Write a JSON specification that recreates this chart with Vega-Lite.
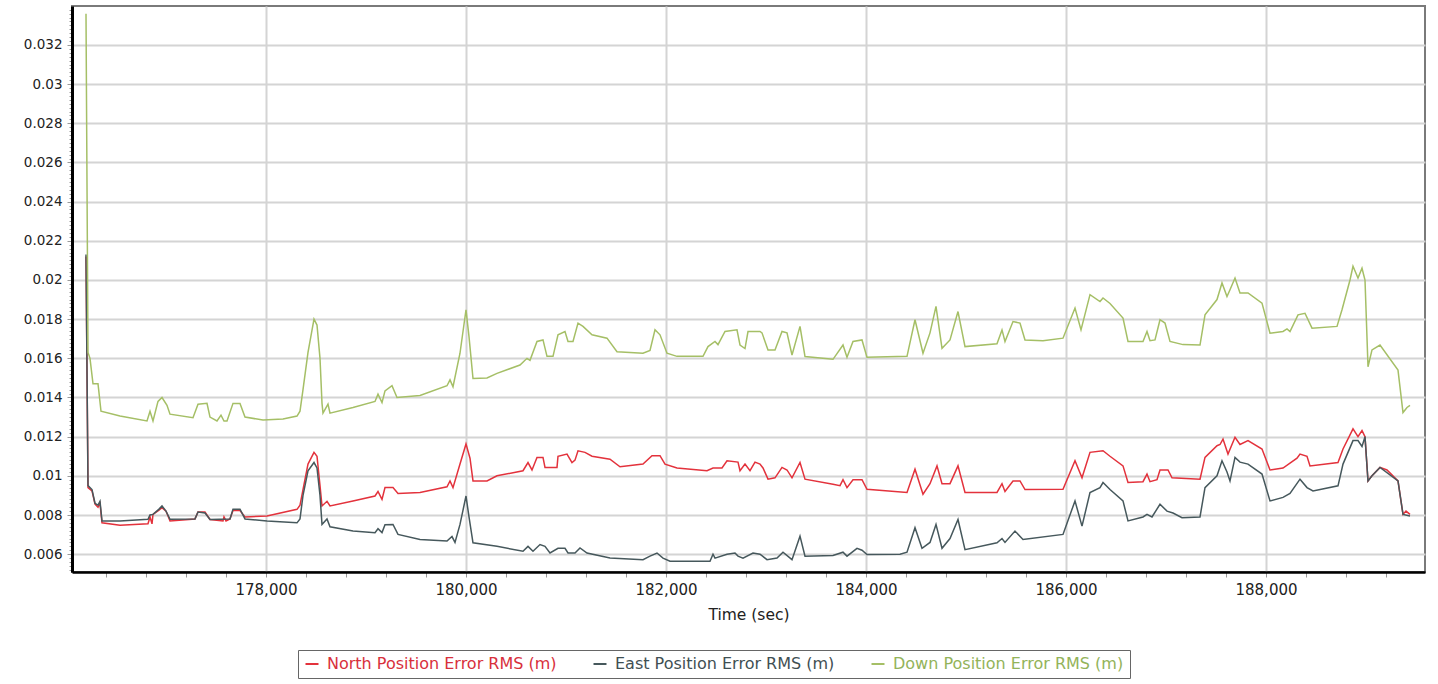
{
  "$schema": "https://vega.github.io/schema/vega-lite/v6.json",
  "width": 1353,
  "height": 566,
  "autosize": "none",
  "padding": {"left": 72, "top": 6, "right": 13, "bottom": 112},
  "background": "white",
  "config": {"view": {"stroke": "#7a7a7a", "strokeWidth": 2}, "font": "DejaVu Sans"},
  "datasets": {
    "north": [
      {"t":176200,"v":0.0212},{"t":176220,"v":0.0094},{"t":176260,"v":0.00923},{"t":176290,"v":0.00855},{"t":176320,"v":0.0084},{"t":176340,"v":0.0086},{"t":176360,"v":0.0076},{"t":176540,"v":0.00748},{"t":176820,"v":0.00755},{"t":176840,"v":0.0079},{"t":176860,"v":0.00755},{"t":176870,"v":0.00803},{"t":176930,"v":0.00825},{"t":176960,"v":0.00838},{"t":177000,"v":0.0082},{"t":177040,"v":0.0077},{"t":177290,"v":0.0078},{"t":177320,"v":0.00815},{"t":177390,"v":0.00815},{"t":177440,"v":0.00777},{"t":177570,"v":0.0077},{"t":177580,"v":0.0079},{"t":177600,"v":0.0077},{"t":177640,"v":0.0078},{"t":177670,"v":0.00823},{"t":177740,"v":0.00823},{"t":177790,"v":0.0079},{"t":178010,"v":0.00795},{"t":178310,"v":0.00829},{"t":178340,"v":0.0085},{"t":178370,"v":0.0093},{"t":178420,"v":0.0106},{"t":178480,"v":0.0112},{"t":178510,"v":0.011},{"t":178540,"v":0.0095},{"t":178560,"v":0.00846},{"t":178610,"v":0.0087},{"t":178640,"v":0.00846},{"t":178870,"v":0.00872},{"t":179090,"v":0.00897},{"t":179120,"v":0.0092},{"t":179160,"v":0.0088},{"t":179190,"v":0.0094},{"t":179270,"v":0.0094},{"t":179320,"v":0.0091},{"t":179540,"v":0.00915},{"t":179810,"v":0.00944},{"t":179840,"v":0.00974},{"t":179870,"v":0.0094},{"t":179940,"v":0.0106},{"t":180000,"v":0.01163},{"t":180040,"v":0.0109},{"t":180070,"v":0.00974},{"t":180210,"v":0.00974},{"t":180310,"v":0.01},{"t":180570,"v":0.01026},{"t":180620,"v":0.01068},{"t":180660,"v":0.0103},{"t":180710,"v":0.01094},{"t":180770,"v":0.01094},{"t":180790,"v":0.01043},{"t":180910,"v":0.01043},{"t":180920,"v":0.011},{"t":181010,"v":0.01111},{"t":181060,"v":0.01068},{"t":181090,"v":0.0108},{"t":181120,"v":0.01128},{"t":181190,"v":0.0112},{"t":181260,"v":0.011},{"t":181440,"v":0.01085},{"t":181540,"v":0.01046},{"t":181770,"v":0.0106},{"t":181860,"v":0.01103},{"t":181940,"v":0.01103},{"t":181990,"v":0.0106},{"t":182110,"v":0.0104},{"t":182410,"v":0.01026},{"t":182470,"v":0.0104},{"t":182560,"v":0.0104},{"t":182610,"v":0.01077},{"t":182720,"v":0.0107},{"t":182740,"v":0.01026},{"t":182790,"v":0.0106},{"t":182840,"v":0.01026},{"t":182890,"v":0.0107},{"t":182940,"v":0.0106},{"t":182970,"v":0.0104},{"t":183020,"v":0.00983},{"t":183090,"v":0.0099},{"t":183160,"v":0.01043},{"t":183210,"v":0.0103},{"t":183260,"v":0.0099},{"t":183340,"v":0.01068},{"t":183390,"v":0.00983},{"t":183670,"v":0.00957},{"t":183740,"v":0.0095},{"t":183770,"v":0.0098},{"t":183810,"v":0.0094},{"t":183870,"v":0.0098},{"t":183960,"v":0.0098},{"t":184010,"v":0.00931},{"t":184410,"v":0.00915},{"t":184490,"v":0.01034},{"t":184570,"v":0.00906},{"t":184640,"v":0.0096},{"t":184710,"v":0.01051},{"t":184760,"v":0.0096},{"t":184840,"v":0.0096},{"t":184920,"v":0.01051},{"t":184990,"v":0.00915},{"t":185310,"v":0.00915},{"t":185360,"v":0.0096},{"t":185390,"v":0.0092},{"t":185470,"v":0.00974},{"t":185540,"v":0.00974},{"t":185590,"v":0.0093},{"t":185970,"v":0.00931},{"t":186090,"v":0.01077},{"t":186160,"v":0.0099},{"t":186240,"v":0.0112},{"t":186370,"v":0.01128},{"t":186440,"v":0.011},{"t":186570,"v":0.01051},{"t":186620,"v":0.00966},{"t":186770,"v":0.0097},{"t":186810,"v":0.01009},{"t":186840,"v":0.0097},{"t":186910,"v":0.0098},{"t":186940,"v":0.0103},{"t":187020,"v":0.0103},{"t":187060,"v":0.0099},{"t":187340,"v":0.00983},{"t":187390,"v":0.01094},{"t":187510,"v":0.01154},{"t":187540,"v":0.0116},{"t":187570,"v":0.01188},{"t":187620,"v":0.01111},{"t":187690,"v":0.01197},{"t":187740,"v":0.0116},{"t":187820,"v":0.0118},{"t":187960,"v":0.01137},{"t":188040,"v":0.0103},{"t":188170,"v":0.0104},{"t":188310,"v":0.0109},{"t":188340,"v":0.01111},{"t":188410,"v":0.011},{"t":188440,"v":0.0105},{"t":188720,"v":0.01068},{"t":188770,"v":0.01137},{"t":188870,"v":0.0124},{"t":188920,"v":0.012},{"t":188960,"v":0.01231},{"t":188990,"v":0.012},{"t":189020,"v":0.00974},{"t":189060,"v":0.01},{"t":189140,"v":0.01043},{"t":189210,"v":0.0103},{"t":189320,"v":0.00974},{"t":189370,"v":0.00803},{"t":189400,"v":0.0082},{"t":189440,"v":0.00803}
    ],
    "east": [
      {"t":176200,"v":0.0213},{"t":176220,"v":0.0095},{"t":176260,"v":0.0093},{"t":176290,"v":0.0086},{"t":176320,"v":0.0085},{"t":176340,"v":0.0087},{"t":176360,"v":0.0077},{"t":176540,"v":0.0077},{"t":176820,"v":0.00778},{"t":176840,"v":0.008},{"t":176870,"v":0.00803},{"t":176930,"v":0.0083},{"t":176960,"v":0.00846},{"t":177000,"v":0.0082},{"t":177040,"v":0.00778},{"t":177290,"v":0.0078},{"t":177320,"v":0.00815},{"t":177390,"v":0.0081},{"t":177440,"v":0.00777},{"t":177640,"v":0.0078},{"t":177670,"v":0.0083},{"t":177740,"v":0.0083},{"t":177790,"v":0.0078},{"t":178010,"v":0.0077},{"t":178310,"v":0.0076},{"t":178340,"v":0.0078},{"t":178370,"v":0.009},{"t":178420,"v":0.01026},{"t":178480,"v":0.01068},{"t":178510,"v":0.0104},{"t":178540,"v":0.009},{"t":178560,"v":0.00752},{"t":178610,"v":0.0078},{"t":178640,"v":0.0074},{"t":178870,"v":0.00718},{"t":179090,"v":0.0071},{"t":179120,"v":0.0073},{"t":179160,"v":0.0071},{"t":179190,"v":0.0075},{"t":179270,"v":0.00752},{"t":179320,"v":0.00701},{"t":179540,"v":0.00675},{"t":179810,"v":0.00667},{"t":179860,"v":0.0069},{"t":179890,"v":0.0066},{"t":179940,"v":0.00752},{"t":180000,"v":0.00897},{"t":180030,"v":0.0079},{"t":180070,"v":0.00658},{"t":180310,"v":0.0064},{"t":180570,"v":0.00615},{"t":180620,"v":0.0064},{"t":180670,"v":0.00615},{"t":180740,"v":0.00649},{"t":180790,"v":0.0064},{"t":180840,"v":0.00606},{"t":180920,"v":0.0063},{"t":180990,"v":0.0063},{"t":181020,"v":0.00606},{"t":181090,"v":0.00606},{"t":181140,"v":0.00632},{"t":181210,"v":0.00606},{"t":181440,"v":0.00581},{"t":181770,"v":0.00572},{"t":181840,"v":0.0059},{"t":181910,"v":0.00606},{"t":181970,"v":0.0058},{"t":182040,"v":0.00564},{"t":182440,"v":0.00564},{"t":182470,"v":0.006},{"t":182490,"v":0.0058},{"t":182610,"v":0.006},{"t":182690,"v":0.00606},{"t":182720,"v":0.0059},{"t":182770,"v":0.0058},{"t":182870,"v":0.00606},{"t":182940,"v":0.006},{"t":183010,"v":0.00572},{"t":183110,"v":0.0058},{"t":183170,"v":0.0061},{"t":183260,"v":0.00572},{"t":183340,"v":0.00692},{"t":183390,"v":0.0059},{"t":183670,"v":0.00593},{"t":183770,"v":0.0061},{"t":183810,"v":0.0059},{"t":183910,"v":0.0063},{"t":183960,"v":0.0062},{"t":184010,"v":0.00598},{"t":184340,"v":0.006},{"t":184410,"v":0.0061},{"t":184490,"v":0.00735},{"t":184560,"v":0.0063},{"t":184640,"v":0.0066},{"t":184700,"v":0.00752},{"t":184760,"v":0.0063},{"t":184840,"v":0.0068},{"t":184920,"v":0.00777},{"t":184990,"v":0.00623},{"t":185310,"v":0.00658},{"t":185360,"v":0.0068},{"t":185390,"v":0.0066},{"t":185490,"v":0.00718},{"t":185570,"v":0.00675},{"t":185970,"v":0.00701},{"t":186090,"v":0.00872},{"t":186160,"v":0.00743},{"t":186240,"v":0.00915},{"t":186340,"v":0.0094},{"t":186370,"v":0.00966},{"t":186440,"v":0.0093},{"t":186570,"v":0.00872},{"t":186620,"v":0.0077},{"t":186770,"v":0.0079},{"t":186810,"v":0.00803},{"t":186860,"v":0.0079},{"t":186940,"v":0.00855},{"t":187010,"v":0.0082},{"t":187070,"v":0.0081},{"t":187160,"v":0.00786},{"t":187340,"v":0.0079},{"t":187390,"v":0.0094},{"t":187510,"v":0.01},{"t":187560,"v":0.01077},{"t":187610,"v":0.0102},{"t":187640,"v":0.00974},{"t":187690,"v":0.01094},{"t":187740,"v":0.0107},{"t":187820,"v":0.0106},{"t":187960,"v":0.01009},{"t":188040,"v":0.00872},{"t":188170,"v":0.0089},{"t":188240,"v":0.0091},{"t":188340,"v":0.00983},{"t":188410,"v":0.0094},{"t":188470,"v":0.00923},{"t":188720,"v":0.00949},{"t":188770,"v":0.0106},{"t":188870,"v":0.0118},{"t":188920,"v":0.0118},{"t":188960,"v":0.0115},{"t":188990,"v":0.012},{"t":189020,"v":0.00974},{"t":189060,"v":0.01},{"t":189140,"v":0.01043},{"t":189320,"v":0.00974},{"t":189370,"v":0.00803},{"t":189440,"v":0.00795}
    ],
    "down": [
      {"t":176200,"v":0.0336},{"t":176220,"v":0.0163},{"t":176240,"v":0.016},{"t":176270,"v":0.0147},{"t":176320,"v":0.0147},{"t":176350,"v":0.0133},{"t":176540,"v":0.01306},{"t":176810,"v":0.0128},{"t":176840,"v":0.0133},{"t":176870,"v":0.0128},{"t":176920,"v":0.0138},{"t":176960,"v":0.014},{"t":177010,"v":0.0136},{"t":177040,"v":0.01315},{"t":177270,"v":0.01297},{"t":177320,"v":0.01366},{"t":177410,"v":0.0137},{"t":177440,"v":0.013},{"t":177510,"v":0.0128},{"t":177550,"v":0.0131},{"t":177580,"v":0.0128},{"t":177610,"v":0.0128},{"t":177670,"v":0.0137},{"t":177740,"v":0.0137},{"t":177790,"v":0.013},{"t":177970,"v":0.01285},{"t":178170,"v":0.0129},{"t":178310,"v":0.01305},{"t":178340,"v":0.0133},{"t":178370,"v":0.0144},{"t":178420,"v":0.0163},{"t":178480,"v":0.018},{"t":178510,"v":0.0177},{"t":178540,"v":0.016},{"t":178560,"v":0.0137},{"t":178570,"v":0.0132},{"t":178620,"v":0.01366},{"t":178640,"v":0.0132},{"t":178870,"v":0.01349},{"t":179090,"v":0.0138},{"t":179120,"v":0.01417},{"t":179160,"v":0.01374},{"t":179190,"v":0.01434},{"t":179260,"v":0.0146},{"t":179310,"v":0.014},{"t":179540,"v":0.0141},{"t":179810,"v":0.0146},{"t":179840,"v":0.0149},{"t":179870,"v":0.01455},{"t":179940,"v":0.01626},{"t":180000,"v":0.01848},{"t":180030,"v":0.01711},{"t":180070,"v":0.01497},{"t":180210,"v":0.015},{"t":180310,"v":0.01523},{"t":180540,"v":0.01566},{"t":180610,"v":0.016},{"t":180640,"v":0.0159},{"t":180710,"v":0.01686},{"t":180770,"v":0.01694},{"t":180810,"v":0.0161},{"t":180870,"v":0.0161},{"t":180920,"v":0.0172},{"t":180990,"v":0.01737},{"t":181020,"v":0.01686},{"t":181070,"v":0.01686},{"t":181120,"v":0.0178},{"t":181170,"v":0.01763},{"t":181260,"v":0.0172},{"t":181410,"v":0.01703},{"t":181510,"v":0.01634},{"t":181770,"v":0.01626},{"t":181840,"v":0.0164},{"t":181890,"v":0.01746},{"t":181940,"v":0.0172},{"t":182010,"v":0.01626},{"t":182110,"v":0.0161},{"t":182370,"v":0.0161},{"t":182420,"v":0.0166},{"t":182490,"v":0.01686},{"t":182520,"v":0.0167},{"t":182590,"v":0.01737},{"t":182710,"v":0.01746},{"t":182740,"v":0.01668},{"t":182790,"v":0.0165},{"t":182820,"v":0.01737},{"t":182940,"v":0.01737},{"t":182960,"v":0.0173},{"t":183020,"v":0.01643},{"t":183090,"v":0.01643},{"t":183160,"v":0.01737},{"t":183210,"v":0.0173},{"t":183260,"v":0.01617},{"t":183340,"v":0.01763},{"t":183390,"v":0.01609},{"t":183670,"v":0.01595},{"t":183770,"v":0.01668},{"t":183810,"v":0.01605},{"t":183870,"v":0.01686},{"t":183960,"v":0.01694},{"t":184010,"v":0.01605},{"t":184410,"v":0.0161},{"t":184490,"v":0.01797},{"t":184570,"v":0.01626},{"t":184640,"v":0.0173},{"t":184700,"v":0.01865},{"t":184760,"v":0.01651},{"t":184840,"v":0.01694},{"t":184920,"v":0.01839},{"t":184990,"v":0.0166},{"t":185310,"v":0.01674},{"t":185360,"v":0.01745},{"t":185390,"v":0.01686},{"t":185470,"v":0.01788},{"t":185540,"v":0.0178},{"t":185590,"v":0.01694},{"t":185770,"v":0.0169},{"t":185970,"v":0.01703},{"t":186090,"v":0.01857},{"t":186150,"v":0.01745},{"t":186240,"v":0.01925},{"t":186340,"v":0.0189},{"t":186370,"v":0.01908},{"t":186440,"v":0.0188},{"t":186570,"v":0.01806},{"t":186620,"v":0.01686},{"t":186770,"v":0.01686},{"t":186810,"v":0.01737},{"t":186840,"v":0.0169},{"t":186890,"v":0.01694},{"t":186940,"v":0.01797},{"t":186990,"v":0.0178},{"t":187040,"v":0.01686},{"t":187170,"v":0.0167},{"t":187340,"v":0.01668},{"t":187390,"v":0.01822},{"t":187510,"v":0.019},{"t":187560,"v":0.01985},{"t":187610,"v":0.01916},{"t":187640,"v":0.0195},{"t":187690,"v":0.0201},{"t":187740,"v":0.01934},{"t":187820,"v":0.01934},{"t":187960,"v":0.01882},{"t":188040,"v":0.01728},{"t":188170,"v":0.01737},{"t":188210,"v":0.0175},{"t":188240,"v":0.01737},{"t":188320,"v":0.01822},{"t":188390,"v":0.0183},{"t":188460,"v":0.01754},{"t":188710,"v":0.01763},{"t":188760,"v":0.01848},{"t":188840,"v":0.02},{"t":188870,"v":0.0207},{"t":188920,"v":0.0201},{"t":188960,"v":0.0206},{"t":188990,"v":0.02},{"t":189020,"v":0.01557},{"t":189060,"v":0.01643},{"t":189140,"v":0.01668},{"t":189320,"v":0.0154},{"t":189370,"v":0.01323},{"t":189410,"v":0.01349},{"t":189440,"v":0.0136}
    ]
  },
  "encoding": {
    "x": {
      "field": "t", "type": "quantitative", "title": "Time (sec)",
      "scale": {"domain": [176060, 189590], "nice": false, "zero": false},
      "axis": {
        "values": [176400,176800,177200,177600,178000,178400,178800,179200,179600,180000,180400,180800,181200,181600,182000,182400,182800,183200,183600,184000,184400,184800,185200,185600,186000,186400,186800,187200,187600,188000,188400,188800,189200],
        "labelExpr": "datum.value % 2000 === 0 ? format(datum.value, ',') : ''",
        "labelOverlap": false, "labelBound": false, "labelFlush": false,
        "gridOpacity": {"condition": {"test": "datum.value % 2000 === 0", "value": 1}, "value": 0},
        "gridColor": "#d4d4d4", "gridWidth": 2,
        "domainColor": "#000000", "domainWidth": 2.5,
        "tickColor": "#9a9a9a", "tickSize": 5, "tickWidth": 1,
        "labelFont": "DejaVu Sans", "labelFontSize": 15, "labelColor": "#222222", "labelPadding": 5,
        "titleFont": "DejaVu Sans", "titleFontSize": 15.5, "titleFontWeight": "normal", "titleColor": "#222222", "titlePadding": 10
      }
    },
    "y": {
      "field": "v", "type": "quantitative", "title": null,
      "scale": {"domain": [0.00509, 0.03399], "nice": false, "zero": false},
      "axis": {
        "tickCount": 145,
        "labelExpr": "abs(datum.value / 0.002 - round(datum.value / 0.002)) < 0.01 ? format(datum.value, '~g') : ''",
        "labelOverlap": false, "labelBound": false, "labelFlush": false,
        "gridOpacity": {"condition": {"test": "abs(datum.value / 0.002 - round(datum.value / 0.002)) < 0.01", "value": 1}, "value": 0},
        "tickSize": {"condition": {"test": "abs(datum.value / 0.002 - round(datum.value / 0.002)) < 0.01", "value": 5}, "value": 3},
        "gridColor": "#d4d4d4", "gridWidth": 2,
        "domainColor": "#000000", "domainWidth": 3,
        "tickColor": "#9a9a9a", "tickWidth": 1,
        "labelFont": "DejaVu Sans", "labelFontSize": 13.5, "labelColor": "#222222", "labelPadding": 5
      }
    }
  },
  "layer": [
    {
      "data": {"name": "north"},
      "mark": {"type": "line", "strokeWidth": 1.5},
      "encoding": {
        "color": {
          "datum": "North Position Error RMS (m)",
          "type": "nominal",
          "scale": {
            "domain": ["North Position Error RMS (m)", "East Position Error RMS (m)", "Down Position Error RMS (m)"],
            "range": ["#e3323c", "#46585c", "#a5bf66"]
          },
          "legend": {
            "orient": "none", "legendX": 226, "legendY": 644,
            "direction": "horizontal", "title": null,
            "symbolType": "stroke", "symbolSize": 169, "symbolStrokeWidth": 2,
            "labelFont": "DejaVu Sans", "labelFontSize": 16, "labelLimit": 400,
            "labelColor": {"expr": "datum.value == 'North Position Error RMS (m)' ? '#d8303c' : datum.value == 'East Position Error RMS (m)' ? '#3f4f53' : '#93b35a'"},
            "labelOffset": 7, "columnPadding": 32,
            "strokeColor": "#666666", "fillColor": "#ffffff", "padding": 6
          }
        }
      }
    },
    {
      "data": {"name": "east"},
      "mark": {"type": "line", "strokeWidth": 1.5},
      "encoding": {"color": {"datum": "East Position Error RMS (m)", "type": "nominal"}}
    },
    {
      "data": {"name": "down"},
      "mark": {"type": "line", "strokeWidth": 1.5},
      "encoding": {"color": {"datum": "Down Position Error RMS (m)", "type": "nominal"}}
    }
  ]
}
